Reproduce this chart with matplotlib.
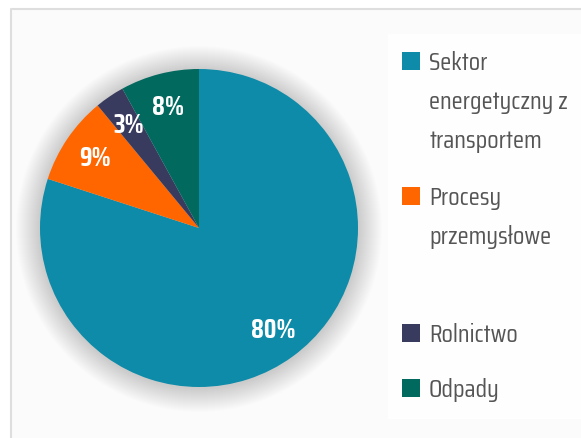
import matplotlib
matplotlib.use('Agg')
import matplotlib.pyplot as plt
from matplotlib.patches import Rectangle, Circle

labels = ["Sektor\nenergetyczny z\ntransportem", "Procesy\nprzemysłowe", "Rolnictwo", "Odpady"]
values = [80, 9, 3, 8]
colors = ["#0E8BA8", "#FF6600", "#383A5E", "#02695F"]

FONT = ['Saira Condensed', 'Rajdhani', 'DejaVu Sans']
plt.rcParams['hatch.color'] = '#e6e6e6'
plt.rcParams['hatch.linewidth'] = 1.0

W, H = 581, 439
fig = plt.figure(figsize=(W / 100, H / 100), dpi=100)
ax = fig.add_axes([0, 0, 1, 1])

# panel background with diagonal stripes
ax.add_patch(Rectangle((11, 0), W - 11, H - 10, facecolor='#fbfbfb', edgecolor='none',
                       hatch='\\\\\\\\\\', zorder=0))
ax.plot([11, 11, W], [0, H - 10, H - 10], color='#dedede', lw=1.5, zorder=1)

# legend panel
ax.add_patch(Rectangle((388, 19), W - 388, 385, facecolor='white', alpha=0.85,
                       edgecolor='none', zorder=1))

cx, cy, r = 199, 210, 159
# soft shadow
for i in range(24):
    ax.add_patch(Circle((cx, cy - 1), r + 24 - i, facecolor='#000000', alpha=0.008,
                        edgecolor='none', zorder=2))

wedges, texts, autotexts = ax.pie(values, colors=colors, startangle=90, counterclock=False,
                                  center=(cx, cy), radius=r, autopct='%d%%', pctdistance=0.79,
                                  wedgeprops=dict(linewidth=0, zorder=3), frame=True,
                                  textprops=dict(color='white', fontsize=19, fontweight='bold',
                                                 family=FONT))
for t in autotexts:
    t.set_zorder(4)
ax.set_xlim(0, W)
ax.set_ylim(0, H)
ax.set_aspect('equal')
ax.axis('off')

# legend entries
rows = [62, 197, 334, 389]
for lab, col, y in zip(labels, colors, rows):
    ax.add_patch(Rectangle((402, H - y - 9), 18, 18, facecolor=col, edgecolor='none', zorder=5))
    ax.text(429, H - y + 11, lab, ha='left', va='top', fontsize=18.5, color='#555555',
            family=FONT, linespacing=1.78, zorder=5)

fig.savefig('out.png', dpi=100)
